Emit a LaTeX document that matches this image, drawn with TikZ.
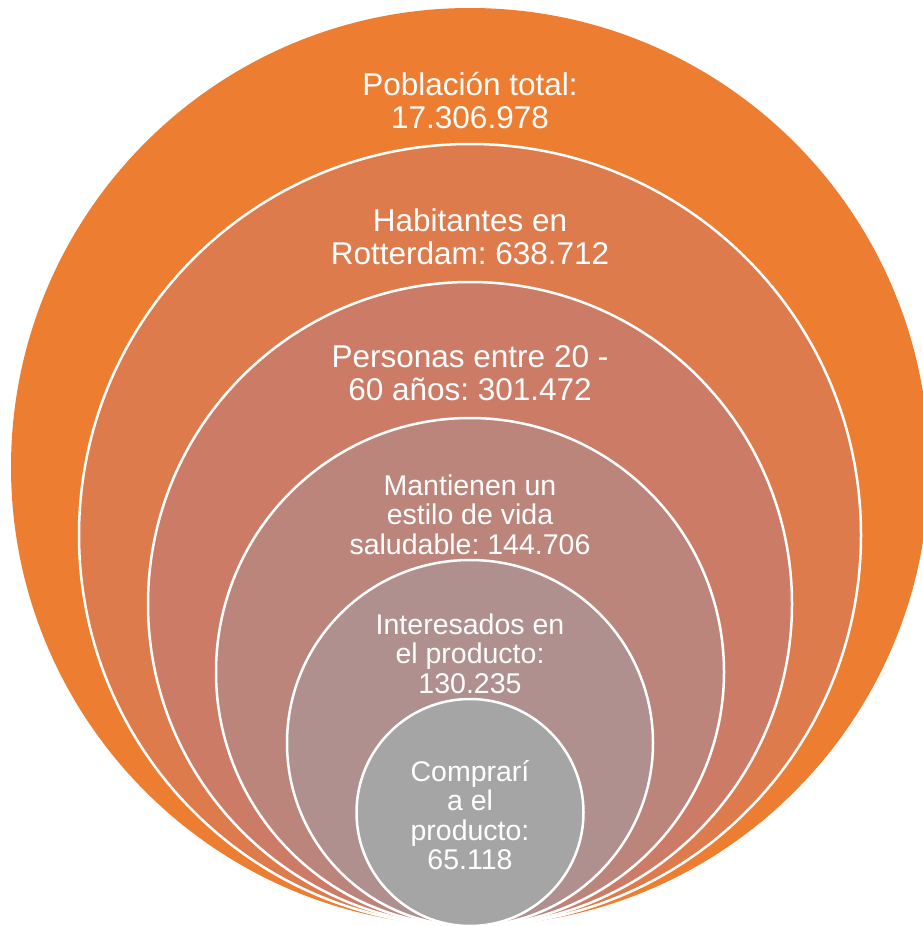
\documentclass[tikz,border=0pt]{standalone}
\usepackage{fontspec}
\setmainfont{Liberation Sans}
\frenchspacing
\definecolor{ringA}{HTML}{ED7D31}
\definecolor{ringB}{HTML}{DD7B4C}
\definecolor{ringC}{HTML}{CC7C66}
\definecolor{ringD}{HTML}{BB857B}
\definecolor{ringE}{HTML}{AF908E}
\definecolor{ringF}{HTML}{A5A5A5}
\begin{document}
\begin{tikzpicture}[x=1pt, y=-1pt,
  ring/.style={circle,draw=white,line width=2.5pt,inner sep=0pt},
  bigtxt/.style={text=white,align=center,font=\fontsize{31.5}{33}\selectfont},
  smalltxt/.style={text=white,align=center,font=\fontsize{28.5}{29.5}\selectfont}]
  \useasboundingbox (0,0) rectangle (923,926);
  % nested rings, outside in
  \node[ring,draw=none,fill=ringA,minimum size=918pt] (total) at (470,467) {};
  \node[ring,fill=ringB,minimum size=782pt] (rotterdam) at (470,535) {};
  \node[ring,fill=ringC,minimum size=644pt] (edad) at (470,604) {};
  \node[ring,fill=ringD,minimum size=508pt] (saludable) at (470,672) {};
  \node[ring,fill=ringE,minimum size=366pt] (interes) at (470,743) {};
  \node[ring,fill=ringF,minimum size=227pt] (compra) at (470,812.5) {};
  % labels
  \node[bigtxt] (totalTxt) at (470,100.5) {Población total:\\17.306.978};
  \node[bigtxt] (rotterdamTxt) at (470,237) {Habitantes en\\Rotterdam: 638.712};
  \node[bigtxt] (edadTxt) at (470,373) {Personas entre 20 -\\60 años: 301.472};
  \node[smalltxt] (saludableTxt) at (470,514.5) {Mantienen un\\estilo de vida\\saludable: 144.706};
  \node[smalltxt] (interesTxt) at (470,653.5) {Interesados en\\el producto:\\130.235};
  \node[smalltxt] (compraTxt) at (470,815) {Comprarí\\a el\\producto:\\65.118};
\end{tikzpicture}
\end{document}
